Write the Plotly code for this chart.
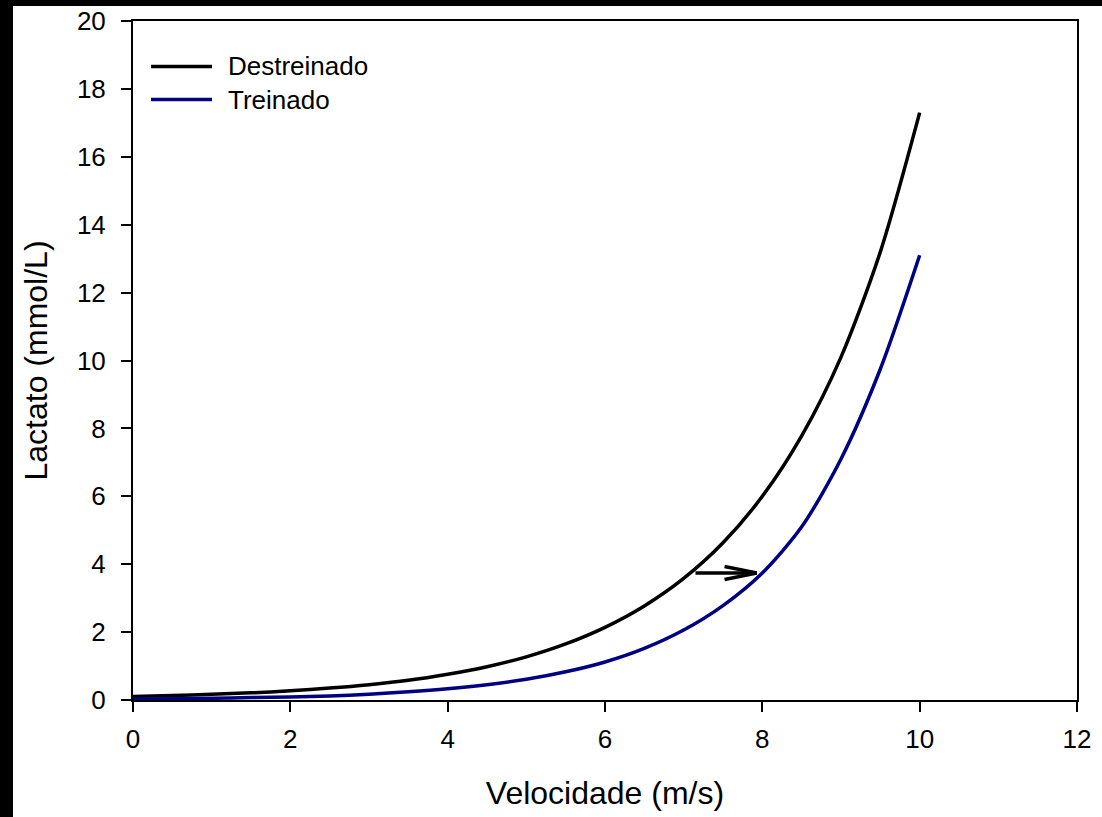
import plotly.graph_objects as go

# ---- data ----
velocidade = [0, 0.5, 1, 1.5, 2, 2.5, 3, 3.5, 4, 4.5, 5, 5.5, 6, 6.5, 7, 7.5, 8, 8.5, 9, 9.5, 10]
destreinado = [0.10, 0.13, 0.17, 0.21, 0.27, 0.35, 0.45, 0.58, 0.76, 0.98, 1.27, 1.65, 2.14,
               2.77, 3.58, 4.63, 6.00, 7.78, 10.1, 13.2, 17.3]
treinado = [0.03, 0.04, 0.05, 0.07, 0.09, 0.12, 0.17, 0.24, 0.33, 0.45, 0.61, 0.83, 1.12,
            1.52, 2.06, 2.78, 3.74, 5.10, 7.10, 9.75, 13.1]
series_names = ["Destreinado", "Treinado"]
x_ticks = [0, 2, 4, 6, 8, 10, 12]
y_ticks = [0, 2, 4, 6, 8, 10, 12, 14, 16, 18, 20]
arrow_start = (7.15, 3.74)
arrow_end = (7.93, 3.74)

# ---- styling ----
FONT = "Arial, Liberation Sans, sans-serif"
BLACK = "#000000"
NAVY = "#000080"
LW = 3.5

W, H = 1102, 817
L, R, T, B = 133, 25, 21, 117
pw, ph = W - L - R, H - T - B

def px_x(p):
    return (p - L) / pw

def px_y(p):
    return (H - B - p) / ph

fig = go.Figure()
fig.add_trace(go.Scatter(x=velocidade, y=destreinado, mode="lines", name=series_names[0],
                         line=dict(color=BLACK, width=LW, shape="spline", smoothing=0.8),
                         showlegend=False))
fig.add_trace(go.Scatter(x=velocidade, y=treinado, mode="lines", name=series_names[1],
                         line=dict(color=NAVY, width=LW, shape="spline", smoothing=0.8),
                         showlegend=False))

shapes = []
# black border strips (left and top) from the original screenshot
shapes.append(dict(type="rect", xref="paper", yref="paper", x0=px_x(0), x1=px_x(13),
                   y0=px_y(H), y1=px_y(0), fillcolor=BLACK, line=dict(width=0)))
shapes.append(dict(type="rect", xref="paper", yref="paper", x0=px_x(0), x1=px_x(W),
                   y0=px_y(6), y1=px_y(0), fillcolor=BLACK, line=dict(width=0)))

# custom legend
legend_rows = [(66.5, BLACK), (99.5, NAVY)]
annotations = []
for (yp, col), name in zip(legend_rows, series_names):
    shapes.append(dict(type="line", xref="paper", yref="paper", x0=px_x(151), x1=px_x(212),
                       y0=px_y(yp), y1=px_y(yp), line=dict(color=col, width=LW)))
    annotations.append(dict(xref="paper", yref="paper", x=px_x(226), y=px_y(yp), text=name,
                            showarrow=False, xanchor="left", yanchor="middle",
                            font=dict(family=FONT, size=26, color=BLACK)))

# arrow (shaft + open chevron head)
ax0, ay0 = arrow_start
ax1, ay1 = arrow_end
head_dx, head_dy = 0.41, 0.19
shapes.append(dict(type="line", xref="x", yref="y", x0=ax0, y0=ay0, x1=ax1, y1=ay1,
                   line=dict(color=BLACK, width=LW)))
for s in (1, -1):
    shapes.append(dict(type="line", xref="x", yref="y", x0=ax1 - head_dx, y0=ay1 + s * head_dy,
                       x1=ax1, y1=ay1, line=dict(color=BLACK, width=LW)))

axis_common = dict(showline=True, linecolor=BLACK, linewidth=2, mirror=True, ticks="outside",
                   ticklen=10, tickwidth=2, tickcolor=BLACK, showgrid=False, zeroline=False,
                   tickfont=dict(family=FONT, size=26, color=BLACK))

fig.update_layout(
    width=W, height=H, margin=dict(l=L, r=R, t=T, b=B, autoexpand=False),
    paper_bgcolor="white", plot_bgcolor="white",
    xaxis=dict(range=[0, 12], tickvals=x_ticks, ticktext=[str(v) for v in x_ticks],
               ticklabelstandoff=5,
               title=dict(text="Velocidade (m/s)", font=dict(family=FONT, size=32, color=BLACK),
                          standoff=28), automargin=False, **axis_common),
    yaxis=dict(range=[0, 20], tickvals=y_ticks, ticktext=[str(v) for v in y_ticks],
               ticklabelstandoff=10,
               title=dict(text="Lactato (mmol/L)", font=dict(family=FONT, size=32, color=BLACK),
                          standoff=20), automargin=False, **axis_common),
    shapes=shapes, annotations=annotations, showlegend=False,
)

fig.write_html("out.html")
